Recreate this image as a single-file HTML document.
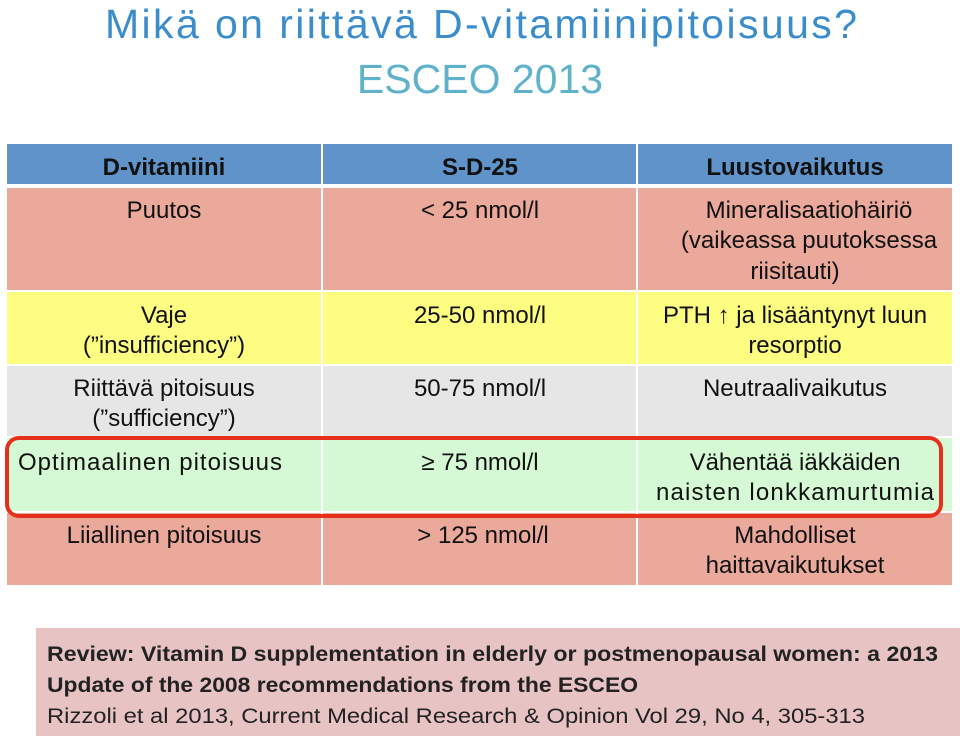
<!DOCTYPE html>
<html><head><meta charset="utf-8"><style>
html,body{margin:0;padding:0;background:#fff;width:960px;height:736px;overflow:hidden}
svg{display:block}
text{font-family:"Liberation Sans",sans-serif}
</style></head><body>
<svg width="960" height="736" viewBox="0 0 960 736">
<text x="481" y="38" font-size="41" fill="#3b8ccb" text-anchor="middle" textLength="752">Mikä on riittävä D-vitamiinipitoisuus?</text>
<text x="480" y="93" font-size="41" fill="#5fb2c9" text-anchor="middle">ESCEO 2013</text>

<g>
<rect x="7" y="144" width="314" height="40" fill="#5f93c9"/>
<rect x="323" y="144" width="313" height="40" fill="#5f93c9"/>
<rect x="638" y="144" width="314" height="40" fill="#5f93c9"/>
<rect x="7" y="188" width="314" height="102" fill="#eaa99b"/><rect x="323" y="188" width="313" height="102" fill="#eaa99b"/><rect x="638" y="188" width="314" height="102" fill="#eaa99b"/>
<rect x="7" y="292" width="314" height="72" fill="#fdfd82"/><rect x="323" y="292" width="313" height="72" fill="#fdfd82"/><rect x="638" y="292" width="314" height="72" fill="#fdfd82"/>
<rect x="7" y="366" width="314" height="70" fill="#e6e6e6"/><rect x="323" y="366" width="313" height="70" fill="#e6e6e6"/><rect x="638" y="366" width="314" height="70" fill="#e6e6e6"/>
<rect x="7" y="438" width="314" height="73" fill="#d5f9d5"/><rect x="323" y="438" width="313" height="73" fill="#d5f9d5"/><rect x="638" y="438" width="314" height="73" fill="#d5f9d5"/>
<rect x="7" y="513" width="314" height="72" fill="#eaa99b"/><rect x="323" y="513" width="313" height="72" fill="#eaa99b"/><rect x="638" y="513" width="314" height="72" fill="#eaa99b"/>

<g font-size="24" font-weight="bold" fill="#111" text-anchor="middle">
<text x="164" y="175">D-vitamiini</text>
<text x="480" y="175">S-D-25</text>
<text x="795" y="175">Luustovaikutus</text>
</g>
<g font-size="24" fill="#111" text-anchor="middle">
<text x="164" y="218">Puutos</text>
<text x="480" y="218">&lt; 25 nmol/l</text>
<text x="809" y="218">Mineralisaatiohäiriö</text>
<text x="809" y="248">(vaikeassa puutoksessa</text>
<text x="795" y="279">riisitauti)</text>
<text x="164" y="323">Vaje</text>
<text x="164" y="353">(”insufficiency”)</text>
<text x="480" y="323">25-50 nmol/l</text>
<text x="795" y="323">PTH ↑ ja lisääntynyt luun</text>
<text x="795" y="353">resorptio</text>
<text x="164" y="396">Riittävä pitoisuus</text>
<text x="164" y="426">(”sufficiency”)</text>
<text x="480" y="396">50-75 nmol/l</text>
<text x="795" y="396">Neutraalivaikutus</text>
<text x="150" y="470" textLength="264">Optimaalinen pitoisuus</text>
<text x="480" y="470">≥ 75 nmol/l</text>
<text x="795" y="470">Vähentää iäkkäiden</text>
<text x="795" y="500" textLength="278">naisten lonkkamurtumia</text>
<text x="164" y="543">Liiallinen pitoisuus</text>
<text x="483" y="543">&gt; 125 nmol/l</text>
<text x="795" y="543">Mahdolliset</text>
<text x="795" y="573">haittavaikutukset</text>
</g>
</g>
<rect x="7" y="438" width="934" height="78" rx="12" ry="12" fill="none" stroke="#e5301c" stroke-width="4"/>

<g>
<rect x="36" y="628" width="924" height="108" fill="#e8c3c3"/>
<g font-size="21" fill="#222">
<text x="47" y="661" font-weight="bold" textLength="891" lengthAdjust="spacingAndGlyphs">Review: Vitamin D supplementation in elderly or postmenopausal women: a 2013</text>
<text x="47" y="692" font-weight="bold" textLength="591" lengthAdjust="spacingAndGlyphs">Update of the 2008 recommendations from the ESCEO</text>
<text x="47" y="723" textLength="818" lengthAdjust="spacingAndGlyphs">Rizzoli et al 2013, Current Medical Research &amp; Opinion Vol 29, No 4, 305-313</text>
</g>
</g>
</svg>
</body></html>
